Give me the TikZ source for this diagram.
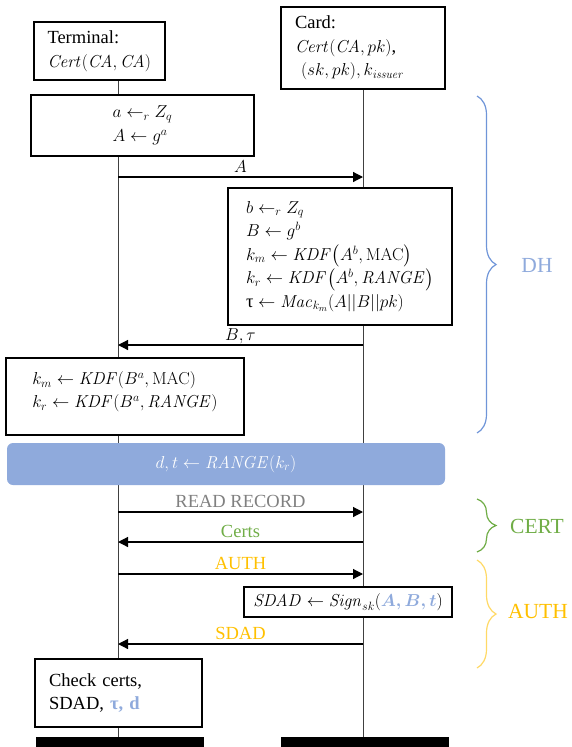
\documentclass[tikz,border=0pt]{standalone}
\usepackage{amsmath,amssymb}
\usepackage[no-math]{fontspec}
\setmainfont{Liberation Serif}
\usepackage{tikz}
\usetikzlibrary{arrows.meta,backgrounds,decorations,decorations.pathreplacing}
\definecolor{rangeblue}{HTML}{8FAADC}
\definecolor{dhbrace}{HTML}{6F95D8}
\definecolor{certgreen}{HTML}{70AD47}
\definecolor{authgold}{HTML}{FFC000}
\definecolor{authbrace}{HTML}{FFD966}
\definecolor{rrgray}{HTML}{808080}

\begin{document}
\begin{tikzpicture}[x=1pt,y=-1pt,
        every node/.style={font=\fontsize{18.5}{23.5}\selectfont},
        box/.style={draw, line width=1.8pt, fill=white, align=left, inner sep=0pt},
        life/.style={line width=0.9pt, black!75},
        msg/.style={line width=1.2pt, -{Triangle[length=10pt,width=10pt]}},
        lbl/.style={above, inner sep=3.5pt, text depth=0pt},
        grp/.style={decorate, decoration={brace, amplitude=19pt}, line width=1.2pt},
        grplbl/.style={font=\fontsize{21.5}{25}\selectfont}]
    \useasboundingbox (0,0) rectangle (572,747);

    \node[box, text width=104pt, inner xsep=13.5pt, minimum height=58pt] (Term) at (99.5,51)
        {Terminal:\\ $\mathit{Cert}(\mathit{CA},\mathit{CA})$};
    \node[box, text width=136pt, inner xsep=14pt, minimum height=82pt] (Card) at (363,48)
        {Card:\\ $\mathit{Cert}(\mathit{CA},pk)$,\\ \hspace*{6pt}$(sk,pk),k_{\mathit{issuer}}$};

    \node[box, minimum width=223pt, minimum height=61pt] (GenA) at (142.5,125.5)
        {$a \leftarrow_r Z_q$\\ $A \leftarrow g^a$};
    \node[box, minimum width=224pt, minimum height=137pt] (GenB) at (340,256.5)
        {$b \leftarrow_r Z_q$\\
         $B \leftarrow g^b$\\
         $k_m \leftarrow \mathit{KDF}\smash{\bigl(}A^b,\mathrm{MAC}\smash{\bigr)}$\\
         $k_r \leftarrow \mathit{KDF}\smash{\bigl(}A^b,\mathit{RANGE}\smash{\bigr)}$\\
         τ $\leftarrow \mathit{Mac}_{k_m}(A||B||pk)$};
    \node[box, minimum width=238pt, minimum height=77pt] (DerK) at (125,396.5)
        {$k_m \leftarrow \mathit{KDF}(B^a,\mathrm{MAC})$\\
         $k_r \leftarrow \mathit{KDF}(B^a,\mathit{RANGE})$\\[-10pt]\mbox{}};

    \node[fill=rangeblue, rounded corners=6pt, text=white, minimum width=438pt, minimum height=42pt] (Range) at (226,464)
        {$d,t \leftarrow \mathit{RANGE}(k_r)$};

    \node[box, minimum width=208pt, minimum height=30pt] (Sign) at (348,602)
        {$\mathit{SDAD} \leftarrow \mathit{Sign}_{sk}({\color{rangeblue}\boldsymbol{A,B,t}})$};
    \node[box, text width=139pt, inner xsep=14pt, minimum height=68pt] (Check) at (118.5,693)
        {Check certs,\\ SDAD, \textcolor{rangeblue}{\textbf{τ, d}}};

    \node[fill=black, inner sep=0pt, minimum width=168pt, minimum height=14pt] (TEnd) at (120,744) {};
    \node[fill=black, inner sep=0pt, minimum width=168pt, minimum height=14pt] (CEnd) at (365,744) {};

    \coordinate (tTop) at (118,80);
    \begin{pgfonlayer}{background}
        \draw[life] (tTop) -- (tTop |- TEnd.north);
        \draw[life] (Card.south) -- (Card.south |- CEnd.north);
    \end{pgfonlayer}

    \foreach \n/\y in {A/177,Bt/345,RR/512,Ce/542,Au/574,Sd/644}{
        \coordinate (t\n) at (118,\y);
        \coordinate (c\n) at (363,\y);
    }
    \draw[msg] (tA) -- node[lbl] (lA) {$A$} (cA);
    \draw[msg] (cBt) -- node[lbl] (lBt) {$B,\tau$} (tBt);
    \draw[msg] (tRR) -- node[lbl, text=rrgray] (lRR) {READ RECORD} (cRR);
    \draw[msg] (cCe) -- node[lbl, text=certgreen] (lCe) {Certs} (tCe);
    \draw[msg] (tAu) -- node[lbl, text=authgold] (lAu) {AUTH} (cAu);
    \draw[msg] (cSd) -- node[lbl, text=authgold] (lSd) {SDAD} (tSd);

    \draw[grp, dhbrace] (477,96) -- (477,433);
    \node[grplbl, text=rangeblue] (DH) at (537,265) {DH};
    \draw[grp, certgreen] (477,499) -- (477,552);
    \node[grplbl, text=certgreen] (CERT) at (537,526) {CERT};
    \draw[grp, authbrace] (477,560) -- (477,668);
    \node[grplbl, text=authgold] (AUTH) at (538,612) {AUTH};
\end{tikzpicture}
\end{document}
